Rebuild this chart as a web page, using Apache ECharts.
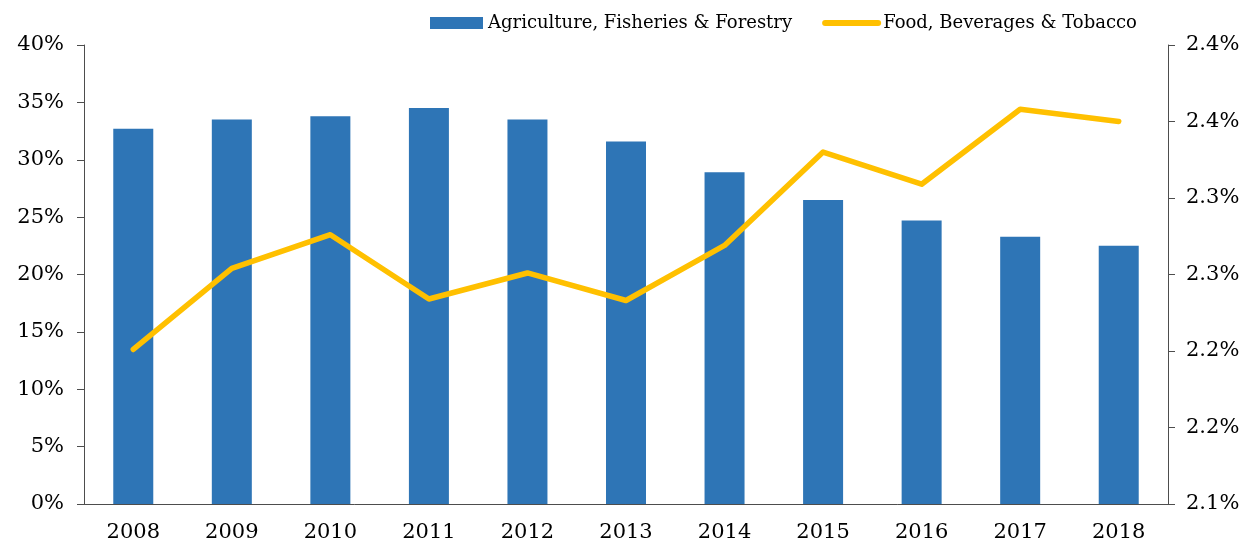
<!DOCTYPE html>
<html>
<head>
<meta charset="utf-8">
<script src="https://cdn.jsdelivr.net/npm/echarts@6/dist/echarts.min.js"></script>
<style>
  html, body { margin: 0; padding: 0; background: #fff; }
  #chart { width: 1244px; height: 543px; }
</style>
</head>
<body>
<div id="chart"></div>
<script>
const years = ["2008", "2009", "2010", "2011", "2012", "2013", "2014", "2015", "2016", "2017", "2018"];
// share of agriculture, fisheries & forestry (left axis, %)
const agriValues = [32.7, 33.5, 33.8, 34.5, 33.5, 31.6, 28.9, 26.5, 24.7, 23.3, 22.5];
// food, beverages & tobacco (right axis, %)
const foodValues = [2.201, 2.254, 2.276, 2.234, 2.251, 2.233, 2.269, 2.330, 2.309, 2.358, 2.350];
// right axis tick labels as printed (rounded to one decimal)
const rightTickLabels = ["2.1%", "2.2%", "2.2%", "2.3%", "2.3%", "2.4%", "2.4%"];

const font = "'DejaVu Serif', serif";
const axisGrey = "#4d4d4d";
const textColor = "#000";

const chart = echarts.init(document.getElementById("chart"));

chart.setOption({
  animation: false,
  textStyle: { fontFamily: font },
  legend: {
    top: 9,
    left: 425,
    itemGap: 30,
    itemWidth: 53,
    itemHeight: 12,
    textStyle: { fontFamily: font, fontSize: 18, color: textColor },
    data: [
      { name: "Agriculture, Fisheries & Forestry", icon: "rect" },
      {
        name: "Food, Beverages & Tobacco",
        itemStyle: { opacity: 0 },
        lineStyle: { color: "#FFC000", width: 6, cap: "round" }
      }
    ]
  },
  grid: { left: 84, right: 76, top: 45, bottom: 38 },
  xAxis: {
    type: "category",
    data: years,
    axisLine: { lineStyle: { color: axisGrey, width: 1 } },
    axisTick: { length: 6, lineStyle: { color: axisGrey } },
    axisLabel: { color: textColor, fontSize: 21, fontFamily: font, margin: 18 }
  },
  yAxis: [
    {
      type: "value",
      min: 0,
      max: 40,
      interval: 5,
      splitLine: { show: false },
      axisLine: { show: true, lineStyle: { color: axisGrey } },
      axisTick: { show: true, length: 7, lineStyle: { color: axisGrey } },
      axisLabel: { color: textColor, fontSize: 21, fontFamily: font, margin: 20, formatter: "{value}%" }
    },
    {
      type: "value",
      min: 2.1,
      max: 2.4,
      interval: 0.05,
      splitLine: { show: false },
      axisLine: { show: true, lineStyle: { color: axisGrey } },
      axisTick: { show: true, length: 7, lineStyle: { color: axisGrey } },
      axisLabel: {
        color: textColor,
        fontSize: 21,
        fontFamily: font,
        margin: 18,
        formatter: function (v) {
          const i = Math.round((v - 2.1) / 0.05);
          return rightTickLabels[i] || "";
        }
      }
    }
  ],
  series: [
    {
      name: "Agriculture, Fisheries & Forestry",
      type: "bar",
      data: agriValues,
      barWidth: 40,
      itemStyle: { color: "#2E75B6" }
    },
    {
      name: "Food, Beverages & Tobacco",
      type: "line",
      yAxisIndex: 1,
      data: foodValues,
      symbol: "none",
      lineStyle: { color: "#FFC000", width: 5.5, cap: "round", join: "round" },
      itemStyle: { color: "#FFC000" }
    }
  ]
});
</script>
</body>
</html>
